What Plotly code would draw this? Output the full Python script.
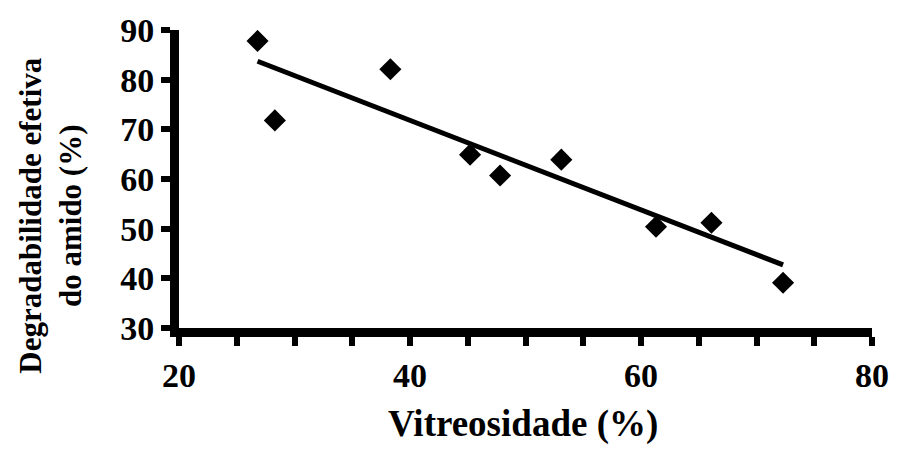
import plotly.graph_objects as go

vitreosidade = [26.8, 28.3, 38.3, 45.2, 47.8, 53.1, 61.3, 66.1, 72.3]
degradabilidade = [87.8, 71.8, 82.1, 64.9, 60.7, 63.9, 50.4, 51.2, 39.1]
fit_x = [26.8, 72.3]
fit_y = [83.7, 42.7]

x_tickvals = [20, 25, 30, 35, 40, 45, 50, 55, 60, 65, 70, 75, 80]
x_ticklabels = ["20", "", "", "", "40", "", "", "", "60", "", "", "", "80"]
y_tickvals = [30, 40, 50, 60, 70, 80, 90]
y_ticklabels = ["30", "40", "50", "60", "70", "80", "90"]

FONT = "Liberation Serif"


def bold(s):
    return "<b>%s</b>" % s if s else ""


fig = go.Figure()
fig.add_trace(go.Scatter(x=fit_x, y=fit_y, mode="lines",
                         line=dict(color="black", width=5), showlegend=False))
fig.add_trace(go.Scatter(x=vitreosidade, y=degradabilidade, mode="markers",
                         marker=dict(symbol="diamond", size=17, color="black"),
                         showlegend=False))

fig.update_layout(
    width=901, height=460,
    margin=dict(l=179, r=19, t=25, b=132),
    paper_bgcolor="white", plot_bgcolor="white",
    font=dict(family=FONT, color="black", size=30),
    xaxis=dict(range=[20, 80], tickvals=x_tickvals,
               ticktext=[bold(t) for t in x_ticklabels],
               showline=True, linecolor="black", linewidth=9,
               ticks="outside", ticklen=9, tickwidth=6, tickcolor="black",
               showgrid=False, zeroline=False,
               tickfont=dict(family=FONT, size=34, color="black")),
    yaxis=dict(range=[30, 90], tickvals=y_tickvals,
               ticktext=[bold(t) for t in y_ticklabels],
               showline=True, linecolor="black", linewidth=9,
               ticks="outside", ticklen=9, tickwidth=6, tickcolor="black",
               showgrid=False, zeroline=False,
               tickfont=dict(family=FONT, size=34, color="black")),
    annotations=[
        dict(text="<b>Vitreosidade (%)</b>", xref="paper", yref="paper",
             x=0.497, y=-0.323, xanchor="center", yanchor="middle",
             showarrow=False, font=dict(family=FONT, size=37, color="black")),
        dict(text="<b>Degradabilidade efetiva<br>do amido (%)</b>", xref="paper", yref="paper",
             x=-0.185, y=0.376, xanchor="center", yanchor="middle", textangle=-90,
             showarrow=False, font=dict(family=FONT, size=31, color="black")),
    ],
)

fig.write_html("out.html")
